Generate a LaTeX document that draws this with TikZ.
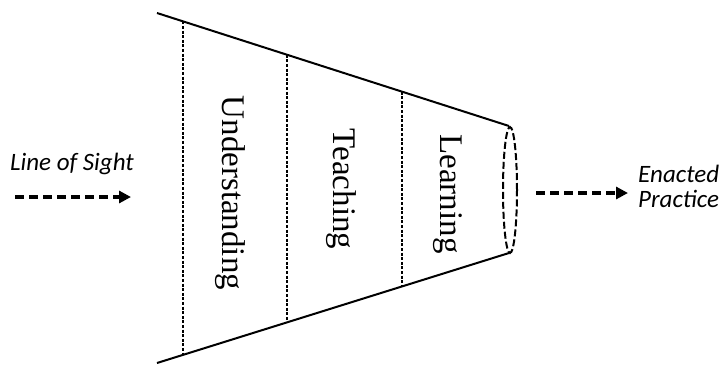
\documentclass[tikz,border=0pt]{standalone}
\usepackage{fontspec}
\setmainfont{Liberation Serif}
\newfontfamily\sightfont{Carlito}
\usetikzlibrary{calc,arrows.meta,shapes.geometric}
\begin{document}
\begin{tikzpicture}[x=1pt,y=-1pt,
        stage/.style={rotate=-90,anchor=base,inner sep=0pt,font=\fontsize{33}{36}\selectfont},
        divider/.style={line width=1.7pt,dash pattern=on 3pt off 1.6pt},
        flow/.style={line width=3.8pt,dash pattern=on 9pt off 5pt,-{Triangle[length=12pt,width=12pt]}},
        side/.style={font=\sightfont\itshape\fontsize{25}{25}\selectfont,inner sep=0pt,align=left},
        ]
    \useasboundingbox (0,0) rectangle (724,365);
    \coordinate (tl) at (157,13);
    \coordinate (tr) at (509,126);
    \coordinate (bl) at (157,363);
    \coordinate (br) at (509,253);
    \draw[line width=2pt] (tl) -- (tr);
    \draw[line width=2pt] (bl) -- (br);
    \foreach \t [count=\i] in {0.0739,0.369,0.696}
        \draw[divider] ($(tl)!\t!(tr)$) -- ($(bl)!\t!(br)$);
    \node (mouth) [draw,ellipse,line width=2pt,dash pattern=on 7pt off 3pt,
        minimum width=14pt,minimum height=126pt,inner sep=0pt] at (510,190) {};
    \node (understanding) [stage] at (222,193) {Understanding};
    \node (teaching) [stage] at (333,189) {Teaching};
    \node (learning) [stage] at (440,194) {Learning};
    \node (sight) [side,anchor=base] at (72,170) {Line of Sight};
    \node (practice) [side,anchor=north west] at (638,165) {Enacted\\Practice};
    \coordinate (sight start) at (15,197);
    \coordinate (sight end) at (131,197);
    \coordinate (practice start) at (536,193);
    \coordinate (practice end) at (628,193);
    \draw[flow] (sight start) -- (sight end);
    \draw[flow] (practice start) -- (practice end);
\end{tikzpicture}
\end{document}
